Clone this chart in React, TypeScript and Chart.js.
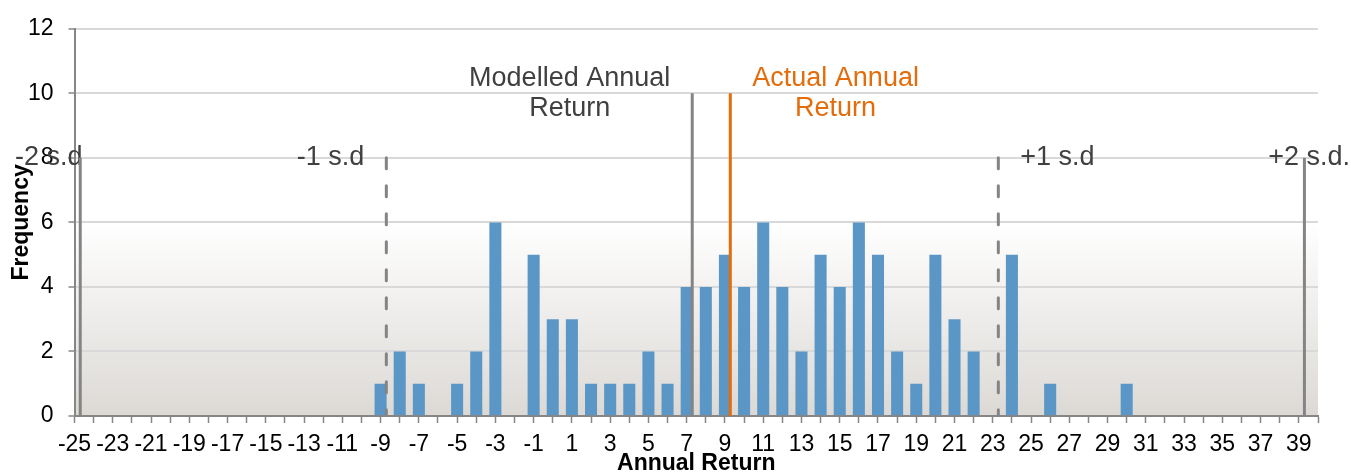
import React, { useEffect, useRef } from 'react';
import { Chart, registerables } from 'chart.js';

Chart.register(...registerables);

const FONT = '"Liberation Sans", Arial, Helvetica, sans-serif';

// Annual return buckets (category axis)
const categories = [
  -25, -24, -23, -22, -21, -20, -19, -18, -17, -16, -15, -14, -13, -12, -11, -10,
  -9, -8, -7, -6, -5, -4, -3, -2, -1,
  0, 1, 2, 3, 4, 5, 6, 7, 8, 9,
  10, 11, 12, 13, 14, 15, 16, 17, 18, 19,
  20, 21, 22, 23, 24, 25, 26, 27, 28, 29,
  30, 31, 32, 33, 34, 35, 36, 37, 38, 39, 40,
];

// Frequency of each bucket
const frequency = [
  0, 0, 0, 0, 0, 0, 0, 0, 0, 0, 0, 0, 0, 0, 0, 0,
  1, 2, 1, 0, 1, 2, 6, 0, 5,
  3, 3, 1, 1, 1, 2, 1, 4, 4, 5,
  4, 6, 4, 2, 5, 4, 6, 5, 2, 1,
  5, 3, 2, 0, 5, 0, 1, 0, 0, 0,
  1, 0, 0, 0, 0, 0, 0, 0, 0, 0, 0,
];

// Labels shown on the x axis
const tickLabels = [
  '-25', '-23', '-21', '-19', '-17', '-15', '-13', '-11', '-9', '-7', '-5', '-3', '-1',
  '1', '3', '5', '7', '9', '11', '13', '15', '17', '19', '21', '23', '25', '27', '29',
  '31', '33', '35', '37', '39',
];

// Vertical marker lines
const markerValues = [-24.7, -8.7, 7.29, 9.28, 23.29, 39.29];
const markerTops = [8, 8, 10, 10, 8, 8];
const markerLabels = [
  ['-2 s.d'],
  ['-1 s.d'],
  ['Modelled Annual', 'Return'],
  ['Actual Annual', 'Return'],
  ['+1 s.d'],
  ['+2 s.d.'],
];
const markerSides = ['left', 'left', 'left', 'right', 'right', 'right'];
const markerDashed = [false, true, false, false, true, false];
const markerLineColors = ['#848484', '#848484', '#848484', '#e46c0a', '#848484', '#848484'];
const markerTextColors = ['#404040', '#404040', '#404040', '#e46c0a', '#404040', '#404040'];

const BAR_COLOR = '#5b97c6';
const AXIS_COLOR = '#868686';
const GRID_COLOR = '#d9d9d9';

export default function App() {
  const ref = useRef<HTMLCanvasElement>(null);

  useEffect(() => {
    const canvas = ref.current;
    if (!canvas) return;
    Chart.defaults.font.family = FONT;

    const bgPlugin = {
      id: 'plotBg',
      beforeDraw(chart: any) {
        const { ctx, chartArea: a } = chart;
        const g = ctx.createLinearGradient(0, a.top, 0, a.bottom);
        g.addColorStop(0, '#ffffff');
        g.addColorStop(0.5, '#ffffff');
        g.addColorStop(1, '#dcd9d5');
        ctx.save();
        ctx.fillStyle = g;
        ctx.fillRect(a.left, a.top, a.right - a.left, a.bottom - a.top);
        ctx.restore();
      },
    };

    const labelPlugin = {
      id: 'markerLabels',
      beforeDatasetsDraw(chart: any) {
        const ctx = chart.ctx;
        const xs = chart.scales.xl;
        const ys = chart.scales.y;
        const GAP = 22;
        const EDGE_L = 15;
        const EDGE_R = 1;
        const LH = 30;
        ctx.save();
        ctx.font = `27px ${FONT}`;
        ctx.textBaseline = 'middle';
        ctx.textAlign = 'center';
        markerValues.forEach((v, i) => {
          const lines = markerLabels[i];
          const px = xs.getPixelForValue(v);
          const py = ys.getPixelForValue(markerTops[i]);
          const w = Math.max(...lines.map((l) => ctx.measureText(l).width));
          let left = markerSides[i] === 'left' ? px - GAP - w : px + GAP;
          left = Math.max(EDGE_L, Math.min(chart.width - EDGE_R - w, left));
          const cx = left + w / 2;
          const y0 = py - ((lines.length - 1) * LH) / 2;
          ctx.fillStyle = markerTextColors[i];
          lines.forEach((l, j) => ctx.fillText(l, cx, y0 + j * LH));
        });
        ctx.restore();
      },
    };

    const lineSets = markerValues.map((v, i) => ({
      type: 'line' as const,
      xAxisID: 'xl',
      yAxisID: 'y',
      data: [
        { x: v, y: markerTops[i] },
        { x: v, y: 0 },
      ],
      borderColor: markerLineColors[i],
      borderWidth: 3,
      borderDash: markerDashed[i] ? [11, 17] : [],
      borderCapStyle: markerDashed[i] ? ('round' as const) : ('butt' as const),
      pointRadius: 0,
      fill: false,
      grouped: false,
      order: 0,
    }));

    const chart = new Chart(canvas, {
      type: 'bar',
      data: {
        labels: categories.map(String),
        datasets: [
          ...lineSets,
          {
            type: 'bar' as const,
            xAxisID: 'x',
            yAxisID: 'y',
            data: frequency,
            backgroundColor: BAR_COLOR,
            barPercentage: 0.63,
            categoryPercentage: 1,
            grouped: false,
            order: 5,
          },
        ] as any,
      },
      options: {
        responsive: false,
        maintainAspectRatio: false,
        animation: false,
        devicePixelRatio: 1,
        layout: { padding: { top: 23, right: 33, bottom: 0, left: 0 } },
        plugins: {
          legend: { display: false },
          tooltip: { enabled: false },
        },
        scales: {
          x: {
            type: 'category',
            position: 'bottom',
            offset: false,
            grid: {
              offset: false,
              display: true,
              drawOnChartArea: false,
              drawTicks: true,
              tickLength: 7,
              tickColor: AXIS_COLOR,
              tickWidth: 1.5,
            },
            border: { display: true, color: AXIS_COLOR, width: 2 },
            ticks: {
              autoSkip: false,
              maxRotation: 0,
              minRotation: 0,
              padding: 8,
              color: '#000000',
              font: { family: FONT, size: 23 },
              callback: (_v: any, index: number) => {
                const lbl = String(categories[index]);
                return tickLabels.includes(lbl) ? lbl : '';
              },
            },
            title: {
              display: true,
              text: 'Annual Return',
              color: '#000000',
              font: { family: FONT, size: 23, weight: 'bold', lineHeight: 1 },
              padding: { top: 0, bottom: 0 },
            },
            afterFit: (s: any) => {
              s.height = 59;
            },
          },
          xl: {
            type: 'linear',
            position: 'bottom',
            display: false,
            offset: false,
            grid: { offset: false },
            min: -25,
            max: 40,
          },
          y: {
            type: 'linear',
            position: 'left',
            min: 0,
            max: 12,
            grid: {
              color: GRID_COLOR,
              lineWidth: 2,
              drawTicks: true,
              tickLength: 6,
              tickColor: AXIS_COLOR,
              tickWidth: 1.5,
            },
            border: { display: true, color: AXIS_COLOR, width: 2 },
            ticks: {
              stepSize: 2,
              padding: 15,
              color: '#000000',
              font: { family: FONT, size: 23 },
            },
            title: {
              display: true,
              text: 'Frequency',
              color: '#000000',
              font: { family: FONT, size: 23, weight: 'bold' },
              padding: { top: 8, bottom: 0 },
            },
            afterFit: (s: any) => {
              s.width = 74.5;
            },
          },
        } as any,
      },
      plugins: [bgPlugin, labelPlugin],
    });

    return () => chart.destroy();
  }, []);

  return (
    <div style={{ position: 'fixed', left: 0, top: 0, width: 1351, height: 475, background: '#ffffff' }}>
      <canvas ref={ref} width={1351} height={475} style={{ display: 'block', width: 1351, height: 475 }} />
    </div>
  );
}
